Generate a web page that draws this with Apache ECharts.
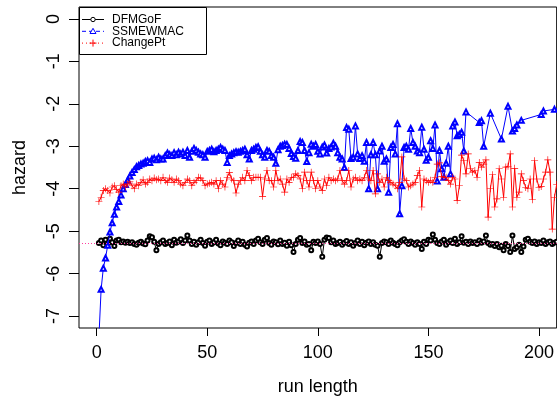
<!DOCTYPE html>
<html><head><meta charset="utf-8">
<script src="https://cdn.jsdelivr.net/npm/echarts@6/dist/echarts.min.js"></script>
<style>html,body{margin:0;padding:0;background:#fff}#c{width:557px;height:401px}</style>
</head><body><div id="c"></div>
<script>
const seriesNames = ['DFMGoF', 'SSMEWMAC', 'ChangePt'];
const xTicks = [0, 50, 100, 150, 200];
const yTicks = [0, -1, -2, -3, -4, -5, -6, -7];
const refLevel = -5.28;

// DFMGoF, run length 1..210
const dfmgof = [
-5.28,-5.22,-5.33,-5.2,-5.3,-5.18,-5.26,-5.35,-5.22,-5.2,
-5.26,-5.24,-5.27,-5.25,-5.28,-5.26,-5.3,-5.32,-5.27,-5.25,
-5.29,-5.31,-5.22,-5.12,-5.14,-5.25,-5.45,-5.3,-5.26,-5.22,
-5.3,-5.28,-5.24,-5.33,-5.2,-5.27,-5.24,-5.19,-5.28,-5.22,
-5.1,-5.22,-5.3,-5.25,-5.32,-5.26,-5.2,-5.28,-5.34,-5.25,
-5.22,-5.3,-5.26,-5.2,-5.29,-5.33,-5.24,-5.27,-5.3,-5.22,
-5.26,-5.35,-5.28,-5.22,-5.3,-5.25,-5.32,-5.36,-5.27,-5.24,
-5.3,-5.22,-5.18,-5.26,-5.3,-5.2,-5.16,-5.28,-5.32,-5.24,
-5.26,-5.31,-5.22,-5.3,-5.27,-5.34,-5.25,-5.33,-5.49,-5.3,
-5.2,-5.16,-5.28,-5.24,-5.32,-5.3,-5.45,-5.25,-5.28,-5.24,
-5.3,-5.6,-5.2,-5.15,-5.16,-5.26,-5.22,-5.3,-5.28,-5.25,
-5.32,-5.27,-5.23,-5.3,-5.26,-5.34,-5.28,-5.22,-5.3,-5.25,
-5.33,-5.27,-5.24,-5.3,-5.26,-5.32,-5.34,-5.6,-5.28,-5.24,
-5.26,-5.3,-5.22,-5.27,-5.3,-5.33,-5.26,-5.22,-5.19,-5.25,
-5.3,-5.24,-5.28,-5.32,-5.26,-5.3,-5.42,-5.25,-5.3,-5.2,
-5.22,-5.08,-5.2,-5.28,-5.3,-5.24,-5.2,-5.32,-5.26,-5.22,
-5.28,-5.18,-5.3,-5.26,-5.12,-5.27,-5.25,-5.3,-5.24,-5.28,
-5.26,-5.3,-5.22,-5.27,-5.24,-5.1,-5.28,-5.32,-5.3,-5.35,
-5.3,-5.38,-5.34,-5.45,-5.3,-5.35,-5.49,-5.1,-5.42,-5.38,
-5.32,-5.49,-5.36,-5.2,-5.18,-5.25,-5.28,-5.24,-5.3,-5.26,
-5.28,-5.22,-5.3,-5.26,-5.24,-5.3,-5.27,-5.25,-5.3,-5.28
];

// SSMEWMAC, run length 1..167 (every run length)
const ssmewmacDense = [
-7.5,-6.37,-5.87,-5.63,-5.33,-5.02,-4.8,-4.6,-4.43,-4.3,
-4.15,-4.0,-3.9,-3.8,-3.7,-3.62,-3.55,-3.48,-3.45,-3.42,
-3.4,-3.36,-3.34,-3.38,-3.3,-3.28,-3.32,-3.26,-3.3,-3.3,
-3.22,-3.16,-3.2,-3.22,-3.15,-3.2,-3.14,-3.18,-3.14,-3.22,
-3.1,-3.26,-3.12,-3.05,-3.1,-3.14,-3.18,-3.2,-3.26,-3.12,
-3.1,-3.07,-3.13,-3.1,-3.07,-3.03,-3.07,-3.1,-3.38,-3.22,
-3.18,-3.15,-3.13,-3.14,-3.12,-3.1,-3.07,-3.2,-3.3,-3.1,
-3.07,-3.03,-3.01,-3.12,-3.2,-3.26,-3.1,-3.12,-3.22,-3.26,
-3.4,-3.08,-3.0,-2.98,-2.95,-2.96,-3.05,-3.17,-3.24,-3.28,
-3.1,-2.89,-2.91,-3.1,-3.36,-3.15,-2.95,-3.0,-2.96,-3.12,
-3.18,-3.02,-2.97,-3.16,-3.05,-3.02,-2.93,-3.0,-3.15,-3.26,
-3.3,-3.5,-2.56,-2.6,-3.29,-3.26,-2.52,-3.18,-3.29,-3.22,
-3.35,-2.91,-4.0,-3.2,-2.91,-3.2,-4.0,-3.11,-3.0,-3.35,
-3.3,-4.08,-3.03,-2.96,-3.18,-2.47,-4.59,-3.93,-3.03,-3.0,
-3.07,-2.58,-2.91,-3.0,-3.11,-3.15,-2.55,-3.07,-3.33,-3.26,
-2.87,-3.05,-2.5,-3.82,-3.1,-3.53,-3.73,-3.4,-3.0,-3.65,
-2.52,-2.43,-2.75,-2.72,-2.67,-3.11,-2.19
];
// SSMEWMAC, sparse run lengths after 167
const ssmewmacSparseX = [173, 174, 175, 178, 183, 186, 188, 189, 190, 192, 201, 202, 207, 214];
const ssmewmacSparseY = [-2.44, -2.4, -3.0, -2.22, -2.83, -2.06, -2.64, -2.58, -2.5, -2.39, -2.25, -2.17, -2.13, -2.05];

// ChangePt, run length 1..208
const changePt = [
-4.3,-4.2,-4.04,-4.0,-4.04,-4.1,-3.96,-3.93,-4.02,-4.08,
-3.93,-3.89,-3.96,-3.89,-3.83,-3.93,-4.0,-3.89,-3.93,-3.85,
-3.79,-3.89,-3.85,-3.77,-3.81,-3.75,-3.79,-3.77,-3.81,-3.73,
-3.81,-3.85,-3.75,-3.79,-3.85,-3.77,-3.81,-3.89,-3.93,-3.85,
-3.77,-3.81,-3.93,-3.85,-3.81,-3.73,-3.75,-3.81,-3.93,-3.89,
-3.87,-3.85,-3.89,-3.81,-4.0,-3.81,-3.89,-3.96,-3.73,-3.62,
-3.77,-3.81,-4.1,-3.89,-3.81,-3.73,-3.81,-3.57,-3.69,-3.81,
-3.73,-3.73,-3.73,-3.73,-4.18,-3.77,-3.57,-3.81,-3.81,-3.96,
-3.57,-3.81,-3.77,-3.89,-4.08,-3.77,-3.85,-3.73,-3.73,-3.65,
-3.69,-3.77,-4.0,-3.61,-3.81,-3.96,-3.61,-3.81,-4.0,-3.81,
-3.96,-4.04,-3.77,-3.93,-3.73,-3.81,-3.77,-3.81,-3.77,-3.57,
-3.81,-3.89,-3.81,-3.57,-3.96,-3.77,-3.73,-3.81,-3.77,-3.81,
-3.73,-3.57,-3.77,-3.81,-3.57,-4.12,-3.65,-3.85,-3.77,-3.96,
-3.73,-3.81,-3.85,-3.89,-3.93,-4.0,-3.85,-3.25,-3.77,-3.81,
-3.96,-3.93,-3.89,-3.85,-3.69,-3.57,-4.43,-3.77,-3.81,-3.85,
-3.8,-3.85,-3.73,-3.42,-3.39,-3.71,-3.73,-3.73,-3.81,-3.89,
-3.73,-3.77,-4.28,-3.93,-3.21,-3.34,-3.65,-3.18,-3.53,-3.61,
-3.57,-3.73,-3.38,-3.49,-3.42,-3.32,-4.67,-4.0,-3.67,-4.43,
-4.24,-3.53,-3.77,-4.2,-3.49,-3.47,-3.18,-4.43,-3.52,-4.2,
-4.08,-3.65,-3.81,-3.97,-4.0,-3.77,-4.26,-3.34,-3.77,-3.97,
-3.95,-3.77,-3.61,-3.32,-3.61,-4.95,-4.2,-3.9
];

const colors = ['#000000', '#0000ff', '#ff0000'];

function pairs(arr) { return arr.map((v, i) => [i + 1, v]); }
const blackData = pairs(dfmgof);
const blueData = pairs(ssmewmacDense).concat(ssmewmacSparseX.map((x, i) => [x, ssmewmacSparseY[i]]));
const redData = pairs(changePt);

const plusPath = 'path://M6,0H7.2V6H13.2V7.2H7.2V13.2H6V7.2H0V6H6Z';
const FONT = '"Liberation Sans", Arial, Helvetica, sans-serif';

// legend graphic
const legendRows = [19.5, 31.3, 43.1];
const gfx = [{
  type: 'rect', z: 100,
  shape: { x: 79.5, y: 7.5, width: 127, height: 47 },
  style: { fill: '#fff', stroke: '#000', lineWidth: 1 }
}];
const dashes = [null, [4, 3], [1, 3]];
seriesNames.forEach((name, i) => {
  const y = legendRows[i];
  gfx.push({ type: 'line', z: 101, shape: { x1: 82, y1: y, x2: 104, y2: y },
    style: { stroke: colors[i], lineWidth: 1, lineDash: dashes[i] } });
  if (i === 0) gfx.push({ type: 'circle', z: 102, shape: { cx: 93, cy: y, r: 2.2 }, style: { fill: '#fff', stroke: '#000', lineWidth: 1 } });
  if (i === 1) gfx.push({ type: 'polygon', z: 102, shape: { points: [[93, y - 3], [96, y + 2.2], [90, y + 2.2]] }, style: { fill: '#fff', stroke: colors[1], lineWidth: 1 } });
  if (i === 2) {
    gfx.push({ type: 'line', z: 102, shape: { x1: 89.5, y1: y, x2: 96.5, y2: y }, style: { stroke: colors[2], lineWidth: 1 } });
    gfx.push({ type: 'line', z: 102, shape: { x1: 93, y1: y - 3.5, x2: 93, y2: y + 3.5 }, style: { stroke: colors[2], lineWidth: 1 } });
  }
  gfx.push({ type: 'text', z: 102, x: 112, y: y,
    style: { text: name, fill: '#000', font: '12px ' + FONT, textVerticalAlign: 'middle', verticalAlign: 'middle' } });
});

const chart = echarts.init(document.getElementById('c'), null, { renderer: 'canvas' });
chart.setOption({
  animation: false,
  backgroundColor: '#fff',
  textStyle: { fontFamily: FONT },
  grid: { left: 79, top: 7, width: 481, height: 322, show: true, borderColor: '#000', borderWidth: 1, backgroundColor: 'transparent' },
  xAxis: {
    type: 'value', min: -8, max: 208,
    axisLine: { show: false, onZero: false }, splitLine: { show: false },
    axisTick: { show: true, inside: false, customValues: xTicks, length: 8, lineStyle: { color: '#000', width: 1 } },
    axisLabel: { customValues: xTicks, fontSize: 18, color: '#000', margin: 16, fontFamily: FONT },
    name: 'run length', nameLocation: 'middle', nameGap: 50,
    nameTextStyle: { fontSize: 18, color: '#000', fontFamily: FONT }
  },
  yAxis: {
    type: 'value', min: -7.28, max: 0.28,
    axisLine: { show: false, onZero: false }, splitLine: { show: false },
    axisTick: { show: true, inside: false, customValues: yTicks, length: 10, lineStyle: { color: '#000', width: 1 } },
    axisLabel: { customValues: yTicks, fontSize: 18, color: '#000', margin: 16, rotate: 90, fontFamily: FONT },
    name: 'hazard', nameLocation: 'middle', nameGap: 50,
    nameTextStyle: { fontSize: 18, color: '#000', fontFamily: FONT }
  },
  series: [
    { name: seriesNames[0], type: 'line', data: blackData, symbol: 'emptyCircle', symbolSize: 4,
      lineStyle: { color: colors[0], width: 1 }, itemStyle: { color: colors[0], borderWidth: 1 },
      clip: true, z: 2,
      markLine: { silent: true, symbol: 'none', label: { show: false },
        lineStyle: { color: '#ff3d9e', type: [1, 2], width: 1 }, data: [{ yAxis: refLevel }] } },
    { name: seriesNames[1], type: 'line', data: blueData, symbol: 'emptyTriangle', symbolSize: 5,
      lineStyle: { color: colors[1], width: 1 }, itemStyle: { color: colors[1], borderWidth: 1 },
      clip: true, z: 3 },
    { name: seriesNames[2], type: 'line', data: redData, symbol: plusPath, symbolSize: 7,
      lineStyle: { color: colors[2], width: 1 }, itemStyle: { color: colors[2] },
      clip: true, z: 4 }
  ],
  graphic: gfx
});
</script></body></html>
